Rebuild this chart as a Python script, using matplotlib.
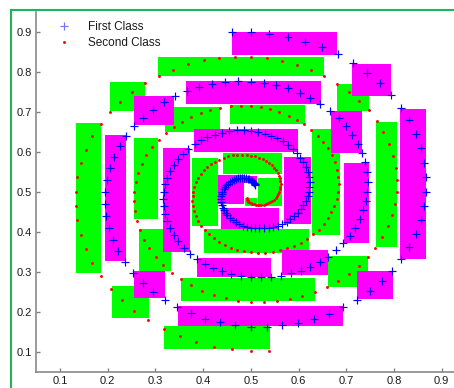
import matplotlib
matplotlib.use("Agg")
import matplotlib.pyplot as plt
from matplotlib.lines import Line2D

plt.rcParams['font.family'] = ['Liberation Sans', 'DejaVu Sans']

# ---- First Class (blue +) ----
blue_x = [
 .461,.500,.539,.577,.614,.649,.683,.715,.744,.771,.794,.815,.832,.846,.857,.864,.867,.867,.864,.856,
 .846,.832,.815,.796,.774,.749,.722,.693,.663,.632,.599,.566,.533,.500,.467,.435,.404,.374,.346,.319,
 .295,.273,.253,.236,.222,.210,.202,.196,.194,.194,.198,.204,.213,.225,.239,.255,.274,.295,.317,.341,
 .366,.392,.418,.446,.473,.500,.527,.553,.578,.602,.625,.646,.666,.684,.699,.713,.724,.733,.739,.743,
 .745,.744,.741,.736,.728,.719,.707,.693,.678,.662,.644,.625,.605,.585,.564,.542,.521,.500,.479,.459,
 .440,.421,.404,.388,.373,.360,.348,.339,.330,.324,.320,.317,.316,.317,.320,.325,.331,.338,.347,.358,
 .369,.382,.395,.409,.424,.439,.454,.470,.485,.500,.515,.529,.542,.555,.567,.578,.588,.597,.604,.610,
 .615,.619,.621,.623,.622,.621,.619,.615,.610,.605,.598,.591,.583,.575,.566,.557,.547,.538,.528,.518,
 .509,.500,.491,.483,.475,.468,.462,.456,.451,.447,.444,.441,.439,.438,.437,.438,.439,.440,.443,.445,
 .448,.452,.456,.460,.464,.469,.473,.478,.482,.486,.490,.494,.497,.500,.503,.505,.507,.508,.509]
blue_y = [
 .898,.898,.894,.887,.875,.861,.843,.821,.797,.771,.742,.710,.678,.644,.608,.572,.536,.500,.464,.429,
 .395,.362,.331,.302,.276,.251,.229,.211,.195,.182,.172,.166,.163,.163,.167,.174,.183,.196,.212,.230,
 .250,.273,.297,.324,.351,.380,.410,.440,.470,.500,.530,.559,.587,.614,.640,.663,.685,.705,.723,.738,
 .751,.761,.769,.773,.776,.775,.772,.766,.758,.747,.734,.719,.702,.684,.663,.642,.620,.596,.573,.548,
 .524,.500,.476,.453,.431,.409,.389,.371,.354,.338,.325,.313,.303,.296,.290,.287,.286,.287,.289,.294,
 .301,.310,.320,.332,.345,.360,.376,.392,.409,.427,.445,.464,.482,.500,.518,.535,.551,.567,.582,.595,
 .607,.618,.628,.636,.642,.647,.651,.653,.653,.652,.649,.645,.640,.633,.626,.617,.607,.597,.585,.574,
 .562,.549,.537,.524,.512,.500,.488,.477,.467,.457,.447,.439,.432,.425,.420,.415,.412,.409,.408,.408,
 .408,.410,.412,.415,.419,.424,.429,.434,.441,.447,.454,.460,.467,.474,.481,.488,.494,.500,.506,.511,
 .516,.520,.524,.527,.529,.531,.533,.534,.534,.534,.533,.532,.531,.529,.527,.525,.522,.520,.517]

# ---- Second Class (red dots) ----
red_x = [
 .539,.500,.461,.423,.386,.351,.317,.285,.256,.229,.206,.185,.168,.154,.143,.136,.133,.133,.136,.144,
 .154,.168,.185,.204,.226,.251,.278,.307,.337,.368,.401,.434,.467,.500,.533,.565,.596,.626,.654,.681,
 .705,.727,.747,.764,.778,.790,.798,.804,.806,.806,.802,.796,.787,.775,.761,.745,.726,.705,.683,.659,
 .634,.608,.582,.554,.527,.500,.473,.447,.422,.398,.375,.354,.334,.316,.301,.287,.276,.267,.261,.257,
 .255,.256,.259,.264,.272,.281,.293,.307,.322,.338,.356,.375,.395,.415,.436,.458,.479,.500,.521,.541,
 .560,.579,.596,.612,.627,.640,.652,.661,.670,.676,.680,.683,.684,.683,.680,.675,.669,.662,.653,.642,
 .631,.618,.605,.591,.576,.561,.546,.530,.515,.500,.485,.471,.458,.445,.433,.422,.412,.403,.396,.390,
 .385,.381,.379,.377,.378,.379,.381,.385,.390,.395,.402,.409,.417,.425,.434,.443,.453,.462,.472,.482,
 .491,.500,.509,.517,.525,.532,.538,.544,.549,.553,.556,.559,.561,.562,.563,.562,.561,.560,.557,.555,
 .552,.548,.544,.540,.536,.531,.527,.522,.518,.514,.510,.506,.503,.500,.497,.495,.493,.492,.491]
red_y = [
 .102,.102,.106,.113,.125,.139,.157,.179,.203,.229,.258,.290,.322,.356,.392,.428,.464,.500,.536,.571,
 .605,.638,.669,.698,.724,.749,.771,.789,.805,.818,.828,.834,.837,.837,.833,.826,.817,.804,.788,.770,
 .750,.727,.703,.676,.649,.620,.590,.560,.530,.500,.470,.441,.413,.386,.360,.337,.315,.295,.277,.262,
 .249,.239,.231,.227,.224,.225,.228,.234,.242,.253,.266,.281,.298,.316,.337,.358,.380,.404,.427,.452,
 .476,.500,.524,.547,.569,.591,.611,.629,.646,.662,.675,.687,.697,.704,.710,.713,.714,.713,.711,.706,
 .699,.690,.680,.668,.655,.640,.624,.608,.591,.573,.555,.536,.518,.500,.482,.465,.449,.433,.418,.405,
 .393,.382,.372,.364,.358,.353,.349,.347,.347,.348,.351,.355,.360,.367,.374,.383,.393,.403,.415,.426,
 .438,.451,.463,.476,.488,.500,.512,.523,.533,.543,.553,.561,.568,.575,.580,.585,.588,.591,.592,.592,
 .592,.590,.588,.585,.581,.576,.571,.566,.559,.553,.546,.540,.533,.526,.519,.512,.506,.500,.494,.489,
 .484,.480,.476,.473,.471,.469,.467,.466,.466,.466,.467,.468,.469,.471,.473,.475,.478,.480,.483]

# ---- decision boxes ----
green_x0 = [.305,.205,.320,.457,.134,.254,.376,.266,.208,.401,.354,.318,.661,.763,.628,.681,.442,.488,.516]
green_x1 = [.653,.278,.435,.613,.185,.306,.432,.333,.287,.621,.635,.540,.746,.807,.686,.747,.565,.512,.565]
green_y0 = [.789,.701,.649,.669,.296,.431,.414,.301,.184,.346,.226,.106,.263,.361,.392,.702,.544,.465,.464]
green_y1 = [.836,.774,.711,.717,.671,.634,.584,.407,.263,.407,.284,.163,.338,.674,.656,.769,.596,.484,.535]

magenta_x0 = [.254,.364,.460,.380,.194,.315,.254,.388,.348,.565,.723,.813,.696,.570,.713,.668,.432,.486,.438]
magenta_x1 = [.339,.647,.681,.598,.238,.373,.320,.543,.694,.661,.797,.868,.747,.626,.793,.733,.486,.512,.559]
magenta_y0 = [.666,.719,.841,.600,.327,.348,.234,.286,.165,.292,.231,.332,.371,.419,.740,.596,.469,.521,.406]
magenta_y1 = [.739,.777,.899,.656,.642,.610,.301,.334,.215,.354,.302,.707,.573,.588,.819,.702,.542,.539,.460]

ticks = [0.1, 0.2, 0.3, 0.4, 0.5, 0.6, 0.7, 0.8, 0.9]
tick_labels = ['0.1', '0.2', '0.3', '0.4', '0.5', '0.6', '0.7', '0.8', '0.9']

W, H = 454, 388
fig = plt.figure(figsize=(W / 100, H / 100), dpi=100)
fig.patch.set_facecolor('white')
ax = fig.add_axes([36.2 / W, (H - 371.7) / H, 429.3 / W, 360 / H])

gw = [b - a for a, b in zip(green_x0, green_x1)]
gh = [b - a for a, b in zip(green_y0, green_y1)]
mw = [b - a for a, b in zip(magenta_x0, magenta_x1)]
mh = [b - a for a, b in zip(magenta_y0, magenta_y1)]
ax.bar(green_x0, gh, width=gw, bottom=green_y0, align='edge', color='#00ff00', linewidth=0, zorder=1)
ax.bar(magenta_x0, mh, width=mw, bottom=magenta_y0, align='edge', color='#ff00ff', linewidth=0, zorder=1)

ax.plot(blue_x, blue_y, linestyle='none', marker='+', color='#0000ff', ms=6.2, mew=0.85,
        label='First Class', zorder=3)
ax.plot(red_x, red_y, linestyle='none', marker='o', color='#ff0000', ms=2.1, mew=0,
        label='Second Class', zorder=4)

ax.set_xlim(0.05, 0.95)
ax.set_ylim(0.05, 0.95)
ax.set_xticks(ticks)
ax.set_xticklabels(tick_labels)
ax.set_yticks(ticks)
ax.set_yticklabels(tick_labels)
ax.tick_params(direction='in', length=3, width=1, color='#808080', labelsize=8,
               labelcolor='#1a1a1a', pad=3)
for s in ['top', 'right']:
    ax.spines[s].set_visible(False)
for s in ['left', 'bottom']:
    ax.spines[s].set_color('#8a8a8a')
    ax.spines[s].set_linewidth(1.2)

leg = ax.legend(loc='upper left', bbox_to_anchor=(0.027, 0.987), frameon=False, fontsize=8.5,
                handlelength=2.0, handletextpad=1.0, labelspacing=0.36, borderpad=0.4,
                borderaxespad=0, numpoints=1)
for t in leg.get_texts():
    t.set_color('#1a1a1a')
leg.legend_handles[0].set_alpha(0.55)

# green outer frame of the figure window
fig.add_artist(Line2D([10.8 / W, 10.8 / W], [0, 1 - 10 / H], transform=fig.transFigure,
                      color='#1db45a', lw=1.5))
fig.add_artist(Line2D([10.8 / W, 1], [1 - 10 / H, 1 - 10 / H], transform=fig.transFigure,
                      color='#1db45a', lw=1.5))

fig.savefig('out.png', dpi=100, facecolor='white')
